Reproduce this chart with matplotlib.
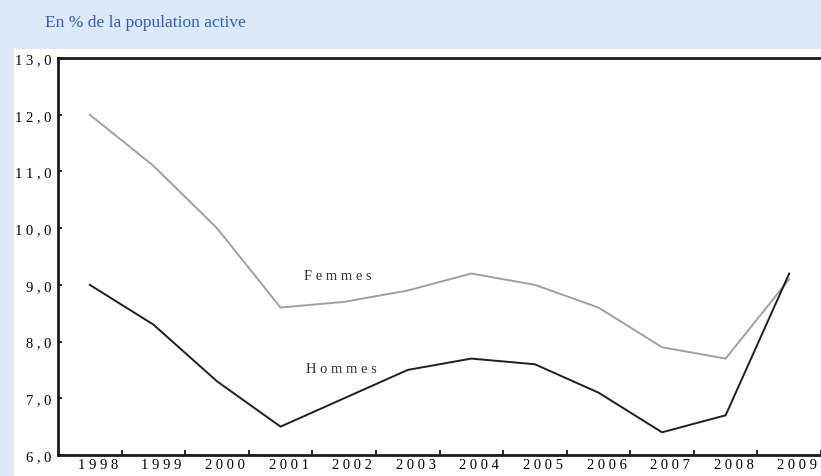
import matplotlib
matplotlib.use("Agg")
import matplotlib.pyplot as plt
from matplotlib.transforms import offset_copy

years = ["1998", "1999", "2000", "2001", "2002", "2003",
         "2004", "2005", "2006", "2007", "2008", "2009"]
femmes = [12.0, 11.1, 10.0, 8.6, 8.7, 8.9, 9.2, 9.0, 8.6, 7.9, 7.7, 9.1]
hommes = [9.0, 8.3, 7.3, 6.5, 7.0, 7.5, 7.7, 7.6, 7.1, 6.4, 6.7, 9.2]
y_ticks = [6.0, 7.0, 8.0, 9.0, 10.0, 11.0, 12.0, 13.0]


def spaced(s):
    # wide letter spacing like the original typesetting
    return " ".join(s)


plt.rcParams["font.family"] = ["Liberation Serif", "DejaVu Serif"]

fig = plt.figure(figsize=(8.21, 4.77), dpi=100)
fig.patch.set_facecolor("#dde9f7")

# white panel behind the chart
bg = fig.add_axes([14 / 821, 0, 1, (477 - 50) / 477])
bg.axis("off")
bg.add_patch(plt.Rectangle((0, 0), 1, 1, transform=bg.transAxes,
                           facecolor="white", edgecolor="none"))

fig.text(45 / 821, 1 - 23 / 477, "En % de la population active",
         color="#2a5bd7", fontsize=12.5, va="center", ha="left")

ax = fig.add_axes([58 / 821, 21 / 477, 1 - 58 / 821, 397 / 477])
ax.set_facecolor("none")

x = list(range(len(years)))
ax.plot(x, femmes, color="#a0a0a0", lw=1.4)
ax.plot(x, hommes, color="#1e1e1e", lw=1.4)

ax.text(3.37, 9.16, spaced("Femmes"), fontsize=10.5, color="#333333",
        ha="left", va="center")
ax.text(3.40, 7.53, spaced("Hommes"), fontsize=10.5, color="#333333",
        ha="left", va="center")

# the last category runs past the right edge of the picture
ax.set_xlim(-0.5, 11.34)
ax.set_ylim(6.0, 13.0)

# ticks at category boundaries, labels at centres (set a little to the right)
ax.set_xticks([i + 0.5 for i in range(len(years))])
ax.set_xticklabels([])
ax.set_xticks(x, minor=True)
ax.set_xticklabels([spaced(y) for y in years], minor=True)
ax.tick_params(axis="x", which="major", direction="in", length=3.5, width=1.2)
ax.tick_params(axis="x", which="minor", length=0, pad=2, labelsize=10.5)
for lab in ax.get_xticklabels(minor=True):
    lab.set_transform(offset_copy(lab.get_transform(), fig=fig, x=8, y=0,
                                  units="dots"))

ax.set_yticks(y_ticks)
ax.set_yticklabels([spaced(f"{v:.1f}".replace(".", ",")) for v in y_ticks])
ax.tick_params(axis="y", direction="in", length=3, width=1.2, pad=5,
               labelsize=10.5)

for side in ["left", "bottom", "top"]:
    ax.spines[side].set_linewidth(2)
    ax.spines[side].set_color("#1a1a1a")
ax.spines["right"].set_visible(False)

fig.savefig("out.png", dpi=100, facecolor=fig.get_facecolor())
